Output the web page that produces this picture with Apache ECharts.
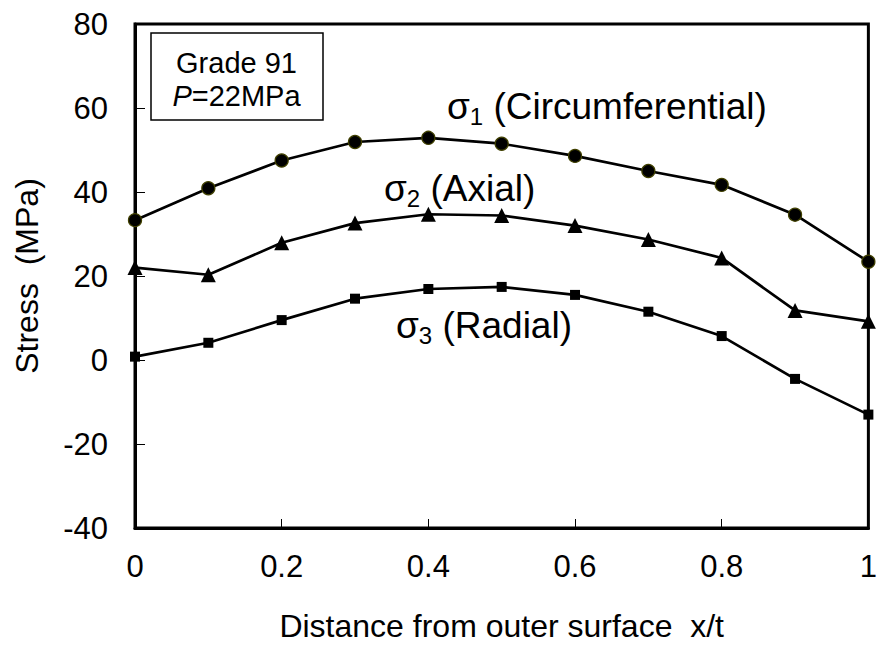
<!DOCTYPE html>
<html>
<head>
<meta charset="utf-8">
<script src="https://cdn.jsdelivr.net/npm/echarts@6/dist/echarts.min.js"></script>
<style>
html,body{margin:0;padding:0;background:#fff;}
#chart{width:880px;height:647px;}
</style>
</head>
<body>
<div id="chart"></div>
<script>
var xValues = [0, 0.1, 0.2, 0.3, 0.4, 0.5, 0.6, 0.7, 0.8, 0.9, 1.0];
var sigma1 = [33.3, 40.9, 47.5, 51.9, 52.9, 51.5, 48.6, 45.0, 41.7, 34.6, 23.4];
var sigma2 = [22.0, 20.3, 27.9, 32.6, 34.7, 34.4, 32.0, 28.7, 24.3, 11.8, 9.2];
var sigma3 = [0.8, 4.1, 9.5, 14.6, 16.9, 17.4, 15.5, 11.5, 5.7, -4.5, -13.0];
var xTitle = 'Distance from outer surface  x/t';
var yTitle = 'Stress  (MPa)';

function pairs(ys){ return xValues.map(function(x,i){ return [x, ys[i]]; }); }

var FONT = '"Liberation Sans", Arial, sans-serif';
var chart = echarts.init(document.getElementById('chart'), null, {renderer:'svg'});

var sigRich = {
  a: {fontSize: 37, fontFamily: FONT, color: '#000', lineHeight: 44, verticalAlign: 'middle'},
  b: {fontSize: 24, fontFamily: FONT, color: '#000', lineHeight: 24, verticalAlign: 'bottom'}
};

var axisLineStyle = {show: true, onZero: false, lineStyle: {color: '#000', width: 3}};

chart.setOption({
  animation: false,
  backgroundColor: '#fff',
  grid: {left: 135, right: 11, top: 24, bottom: 114, show: true, borderColor: '#000', borderWidth: 3, backgroundColor: 'transparent'},
  xAxis: {
    type: 'value', min: 0, max: 1, interval: 0.2,
    axisLine: axisLineStyle,
    axisTick: {show: true, inside: true, length: 9, lineStyle: {color: '#000', width: 1}},
    splitLine: {show: false},
    axisLabel: {fontSize: 31, fontFamily: FONT, color: '#000', margin: 23, formatter: function(v){ return String(Math.round(v*10)/10); }},
    name: xTitle, nameLocation: 'middle', nameGap: 82,
    nameTextStyle: {fontSize: 32, fontFamily: FONT, color: '#000'}
  },
  yAxis: {
    type: 'value', min: -40, max: 80, interval: 20,
    axisLine: axisLineStyle,
    axisTick: {show: true, inside: true, length: 10, lineStyle: {color: '#000', width: 1}},
    splitLine: {show: false},
    axisLabel: {fontSize: 31, fontFamily: FONT, color: '#000', margin: 27},
    name: yTitle, nameLocation: 'middle', nameGap: 92,
    nameTextStyle: {fontSize: 32, fontFamily: FONT, color: '#000'}
  },
  series: [
    {type: 'line', name: 'sigma1', data: pairs(sigma1), symbol: 'circle', symbolSize: 13,
     lineStyle: {color: '#000', width: 2.7}, itemStyle: {color: '#000', borderColor: '#404000', borderWidth: 1.3}, z: 3},
    {type: 'line', name: 'sigma2', data: pairs(sigma2), symbol: 'triangle', symbolSize: 15,
     lineStyle: {color: '#000', width: 2.7}, itemStyle: {color: '#000'}, z: 3},
    {type: 'line', name: 'sigma3', data: pairs(sigma3), symbol: 'rect', symbolSize: 10,
     lineStyle: {color: '#000', width: 2.7}, itemStyle: {color: '#000'}, z: 3}
  ],
  graphic: [
    {type: 'rect', shape: {x: 151, y: 33, width: 172, height: 87}, style: {fill: '#fff', stroke: '#000', lineWidth: 1.5}, z: 10},
    {type: 'text', x: 236.5, y: 63, z: 11, style: {text: 'Grade 91', fontSize: 29, fontFamily: FONT, fill: '#000', align: 'center', verticalAlign: 'middle'}},
    {type: 'text', x: 236.5, y: 96, z: 11, style: {text: '{i|P}{n|=22MPa}', align: 'center', verticalAlign: 'middle',
      rich: {i: {fontSize: 29, fontFamily: FONT, fontStyle: 'italic', color: '#000'}, n: {fontSize: 29, fontFamily: FONT, color: '#000'}}}},
    {type: 'text', x: 447, y: 106, z: 11, style: {text: '{a|σ}{b|1}{a| (Circumferential)}', align: 'left', verticalAlign: 'middle', rich: sigRich}},
    {type: 'text', x: 384, y: 188, z: 11, style: {text: '{a|σ}{b|2}{a| (Axial)}', align: 'left', verticalAlign: 'middle', rich: sigRich}},
    {type: 'text', x: 396, y: 325, z: 11, style: {text: '{a|σ}{b|3}{a| (Radial)}', align: 'left', verticalAlign: 'middle', rich: sigRich}}
  ]
});
</script>
</body>
</html>
